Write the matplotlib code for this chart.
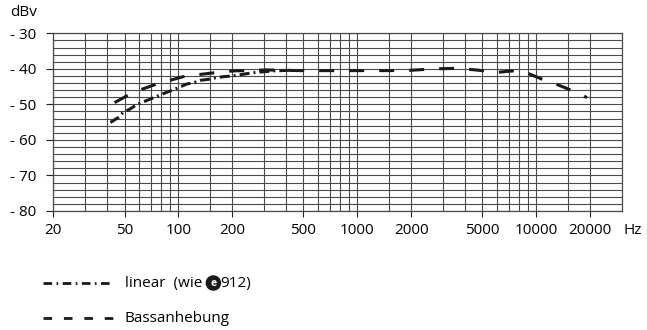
import matplotlib
matplotlib.use("Agg")
import matplotlib.pyplot as plt
from matplotlib.lines import Line2D
from matplotlib.ticker import NullFormatter

plt.rcParams['font.family'] = ['Open Sans', 'DejaVu Sans']
plt.rcParams['lines.scale_dashes'] = False

# Bassanhebung (dashed)
bass_f = [44, 51.5, 62, 75.5, 91.6, 110, 136, 166, 200, 310, 475, 700, 1000, 1500,
          2000, 2700, 3700, 5000, 6000, 7700, 9000, 11000, 13200, 15800, 19200]
bass_db = [-49.5, -47.6, -45.8, -44.3, -43.1, -42.0, -41.5, -41.0, -40.6, -40.3, -40.5,
           -40.5, -40.5, -40.5, -40.4, -40.0, -39.85, -40.5, -41.0, -40.5, -41.3,
           -43.1, -44.5, -46.1, -48.1]

# linear (dash-dot)
lin_f = [41.7, 46.1, 49.2, 53.3, 59.3, 64.3, 69.8, 78.6, 85, 92.7, 101, 111, 123,
         134, 149, 162, 179, 201, 260, 334, 420]
lin_db = [-55.1, -53.7, -52.2, -51.4, -49.9, -49.2, -48.5, -47.4, -46.7, -46.0, -45.2,
          -44.3, -43.8, -43.2, -42.9, -42.5, -42.2, -42.0, -41.1, -40.6, -40.4]

x_major = [20, 50, 100, 200, 500, 1000, 2000, 5000, 10000, 20000]
x_minor = [30, 40, 60, 70, 80, 90, 150, 300, 400, 600, 700, 800, 900, 1500,
           3000, 4000, 6000, 7000, 8000, 9000, 15000]
y_major = [-80, -70, -60, -50, -40, -30]

W, H = 647, 330
FS = 11
fig = plt.figure(figsize=(W / 100, H / 100), dpi=100)
L, R, T, B = 53.3, 621.7, 33.3, 211
ax = fig.add_axes([L / W, 1 - B / H, (R - L) / W, (B - T) / H])

ax.set_xscale('log')
ax.set_xlim(20, 30000)
ax.set_ylim(-80, -30)

grid_col = '#4a4a4a'
ax.set_xticks(x_major)
ax.set_xticklabels([str(v) for v in x_major])
ax.set_xticks(x_minor, minor=True)
ax.xaxis.set_minor_formatter(NullFormatter())
ax.set_yticks(y_major)
ax.set_yticklabels(['- %d' % abs(v) for v in y_major])
ax.set_yticks(range(-78, -30, 2), minor=True)
ax.yaxis.set_minor_formatter(NullFormatter())
ax.tick_params(axis='x', which='major', length=4.5, width=0.8, color='#222222',
               labelsize=FS, pad=4.5)
ax.tick_params(axis='y', which='major', length=5, width=0.8, color='#222222',
               labelsize=FS, pad=7)
ax.tick_params(which='minor', length=0)
ax.grid(True, which='both', color=grid_col, linewidth=0.8)
ax.set_axisbelow(True)
for s in ax.spines.values():
    s.set_color(grid_col)
    s.set_linewidth(0.9)

ax.plot(bass_f, bass_db, color='#1a1a1a', lw=2.2, dashes=(10.8, 10.8))
ax.plot(lin_f, lin_db, color='#1a1a1a', lw=2.2, dashes=(7.2, 2.9, 1.4, 2.9))

fig.text(10 / W, 1 - 13 / H, 'dBv', fontsize=FS, va='center', ha='left')
fig.text(633 / W, 1 - 230 / H, 'Hz', fontsize=FS, va='center', ha='center')

# legend below the chart
fig.add_artist(Line2D([43 / W, 113 / W], [1 - 283 / H] * 2, color='#1a1a1a', lw=2.0,
                      dashes=(6.2, 3.2, 1.2, 3.2), transform=fig.transFigure))
fig.add_artist(Line2D([43 / W, 113 / W], [1 - 318 / H] * 2, color='#1a1a1a', lw=2.0,
                      dashes=(6.2, 8.5), transform=fig.transFigure))
t1 = fig.text(125 / W, 1 - 283 / H, 'linear  (wie ', fontsize=FS, va='center', ha='left')
fig.text(125 / W, 1 - 318 / H, 'Bassanhebung', fontsize=FS, va='center', ha='left')

fig.canvas.draw()
bb = t1.get_window_extent()
logo_x = bb.x1 + 7
fig.text(logo_x / W, 1 - 283 / H, 'e', fontsize=7.5, fontweight='bold', color='white',
         va='center', ha='center',
         bbox=dict(boxstyle='circle,pad=0.15', fc='#1a1a1a', ec='#1a1a1a'))
fig.text((logo_x + 6.5) / W, 1 - 283 / H, '912)', fontsize=FS, va='center', ha='left')

fig.savefig('out.png', dpi=100)
